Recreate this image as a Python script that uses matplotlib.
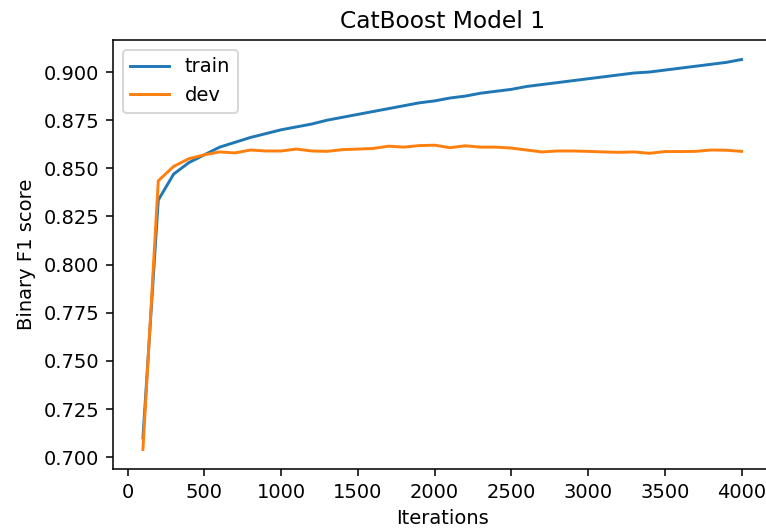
import matplotlib
matplotlib.use("Agg")
import matplotlib.pyplot as plt

iterations = list(range(100, 4001, 100))

train_f1 = [0.710, 0.8335, 0.847, 0.853, 0.857, 0.861, 0.8635, 0.866, 0.868, 0.870,
            0.8715, 0.873, 0.875, 0.8765, 0.878, 0.8795, 0.881, 0.8825, 0.884, 0.885,
            0.8865, 0.8875, 0.889, 0.890, 0.891, 0.8925, 0.8935, 0.8945, 0.8955, 0.8965,
            0.8975, 0.8985, 0.8995, 0.900, 0.901, 0.902, 0.903, 0.904, 0.905, 0.9065]

dev_f1 = [0.704, 0.8435, 0.851, 0.855, 0.857, 0.8585, 0.858, 0.8595, 0.859, 0.859,
          0.860, 0.859, 0.8588, 0.8597, 0.860, 0.8603, 0.8615, 0.861, 0.8618, 0.862,
          0.8607, 0.8617, 0.861, 0.861, 0.8605, 0.8595, 0.8585, 0.859, 0.859, 0.8588,
          0.8585, 0.8583, 0.8585, 0.8578, 0.8587, 0.8587, 0.8588, 0.8595, 0.8594, 0.8588]

# original was a small notebook figure scaled up ~1.95x, cropped on the right
fig = plt.figure(figsize=(766 / 140, 531 / 140), dpi=140)
ax = fig.add_axes([113 / 766, 1 - 469 / 531, (771.5 - 113) / 766, (469 - 40) / 531])

ax.plot(iterations, train_f1, label="train")
ax.plot(iterations, dev_f1, label="dev")

ax.set_title("CatBoost Model 1")
ax.set_xlabel("Iterations")
ax.set_ylabel("Binary F1 score")
ax.set_xticks([0, 500, 1000, 1500, 2000, 2500, 3000, 3500, 4000])
ax.yaxis.set_major_formatter(matplotlib.ticker.FormatStrFormatter("%.3f"))
ax.spines["right"].set_visible(False)  # falls outside the crop in the reference
ax.legend(loc="upper left")

fig.savefig("out.png", dpi=140)
